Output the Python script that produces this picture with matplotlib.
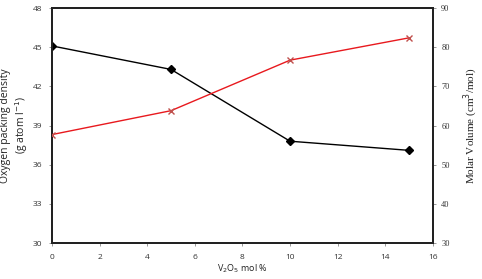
import matplotlib.pyplot as plt

# V2O5 content (mol %)
v2o5 = [0, 5, 10, 15]

# Oxygen packing density (g atom l^-1) - black diamonds, left axis
packing_density = [45.1, 43.3, 37.8, 37.1]

# Molar volume (cm3/mol) - red crosses, right axis
molar_volume = [57.7, 63.8, 76.7, 82.4]

x_ticks = list(range(0, 17, 2))
left_ticks = [30, 33, 36, 39, 42, 45, 48]
right_ticks = [30, 40, 50, 60, 70, 80, 90]

fig = plt.figure(figsize=(4.82, 2.79), dpi=100)
ax = fig.add_axes([0.108, 0.129, 0.79, 0.842])
ax2 = ax.twinx()

ax.plot(v2o5, packing_density, '-', color='black', linewidth=1.0,
        marker='D', markersize=4, zorder=3)
ax2.plot(v2o5, molar_volume, '-', color='#e8191e', linewidth=1.0,
         marker='x', markersize=5, markeredgecolor='#c0504d', zorder=3)

ax.set_xlim(0, 16)
ax.set_ylim(30, 48)
ax2.set_ylim(30, 90)
ax.set_xticks(x_ticks)
ax.set_yticks(left_ticks)
ax2.set_yticks(right_ticks)

tick_font = dict(fontsize=6, family='Open Sans', color='#333333')
ax.set_xticklabels([str(t) for t in x_ticks], **tick_font)
ax.set_yticklabels([str(t) for t in left_ticks], **tick_font)
ax2.set_yticklabels([str(t) for t in right_ticks], fontsize=6,
                    family='Liberation Serif', color='#333333')

ax.tick_params(axis='x', length=2, width=0.6, pad=6, color='#888888')
ax.tick_params(axis='y', length=2, width=0.6, pad=5, color='#888888')
ax2.tick_params(axis='y', length=2, width=0.6, pad=4, color='#888888')

for a in (ax, ax2):
    for s in a.spines.values():
        s.set_linewidth(1.4)
        s.set_color('#222222')

ax.set_xlabel('V$_2$O$_5$ mol %', fontsize=6.5, family='Open Sans',
              color='#222222', va='center')
ax.xaxis.set_label_coords(0.5, -0.11)
ax.set_ylabel('Oxygen packing density\n(g atom l$^{-1}$)', fontsize=7.5,
              family='Open Sans', color='#222222', linespacing=1.15,
              va='center', ha='center')
ax.yaxis.set_label_coords(-0.098, 0.5)
ax2.set_ylabel('Molar Volume (cm$^3$/mol)', fontsize=8,
               family='Liberation Serif', color='#222222', rotation=90,
               va='center', ha='center')
ax2.yaxis.set_label_coords(1.1, 0.5)

fig.savefig('out.png', dpi=100)
